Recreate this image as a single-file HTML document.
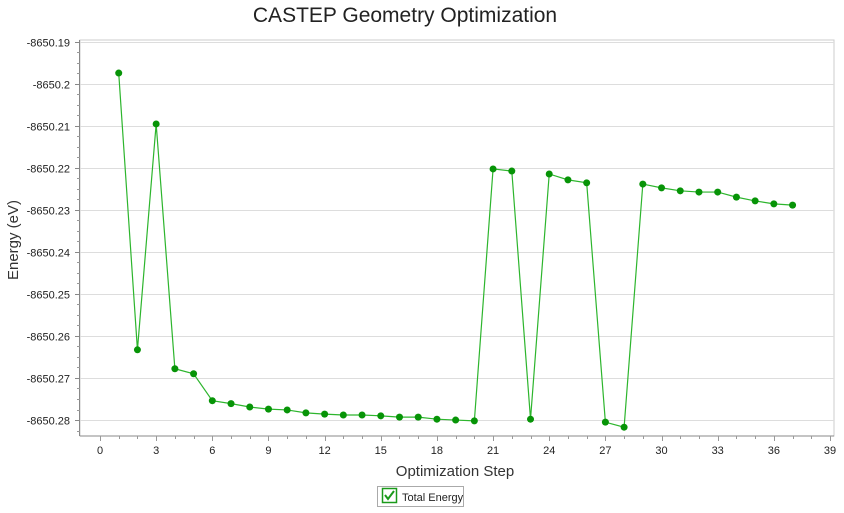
<!DOCTYPE html>
<html><head><meta charset="utf-8"><style>
body{margin:0;background:#fff;font-family:"Liberation Sans",sans-serif;}
svg{display:block}
</style></head><body>
<svg id="chart" width="844" height="513">
<text x="405" y="22" text-anchor="middle" font-size="21" fill="#222">CASTEP Geometry Optimization</text>
<rect x="80" y="40" width="754" height="396" fill="#fff" stroke="#ccc"/>
<g id="grid"></g><g id="axes"></g><g id="series"></g>
<text transform="translate(18,240) rotate(-90)" text-anchor="middle" font-size="15" fill="#333">Energy (eV)</text>
<text x="455" y="476" text-anchor="middle" font-size="15" fill="#333">Optimization Step</text>
<g>
<rect x="377.5" y="486.5" width="86" height="20" fill="#fff" stroke="#aaa"/>
<rect x="382.5" y="488.5" width="14" height="14" fill="#fff" stroke="#1a9a1a" stroke-width="1.5"/>
<path d="M385 495 l3 4 l6 -8" fill="none" stroke="#1a9a1a" stroke-width="2"/>
<text x="402" y="501" font-size="11" fill="#222">Total Energy</text>
</g>
</svg>
<script>
const steps=[1,2,3,4,5,6,7,8,9,10,11,12,13,14,15,16,17,18,19,20,21,22,23,24,25,26,27,28,29,30,31,32,33,34,35,36,37];
const energies=[-8650.1975,-8650.2633,-8650.2096,-8650.2678,-8650.2690,-8650.2754,-8650.2761,-8650.2769,-8650.2774,-8650.2776,-8650.2783,-8650.2786,-8650.2788,-8650.2788,-8650.2790,-8650.2793,-8650.2793,-8650.2798,-8650.2800,-8650.2802,-8650.2203,-8650.2208,-8650.2798,-8650.2215,-8650.2229,-8650.2236,-8650.2805,-8650.2817,-8650.2239,-8650.2248,-8650.2255,-8650.2258,-8650.2258,-8650.2270,-8650.2279,-8650.2286,-8650.2289];
const xTicks=[0,3,6,9,12,15,18,21,24,27,30,33,36,39];
const yTicks=[-8650.19,-8650.2,-8650.21,-8650.22,-8650.23,-8650.24,-8650.25,-8650.26,-8650.27,-8650.28];
const NS="http://www.w3.org/2000/svg";
const X=v=>100+(v-0)*(730/39);
const Y=v=>41.5+(-8650.19-v)*4206;
function mk(t,a,p){const e=document.createElementNS(NS,t);for(const k in a)e.setAttribute(k,a[k]);p.appendChild(e);return e;}
const grid=document.getElementById('grid'),axes=document.getElementById('axes'),ser=document.getElementById('series');
mk('line',{x1:80,y1:436,x2:834,y2:436,stroke:'#888'},axes);
mk('line',{x1:79.5,y1:40,x2:79.5,y2:436,stroke:'#888'},axes);
yTicks.forEach(v=>{const y=Math.round(Y(v))+0.5;
 const g=mk('line',{x1:80,y1:y,x2:834,y2:y,stroke:'#ddd'},grid);
 
 mk('line',{x1:75,y1:y,x2:80,y2:y,stroke:'#888'},axes);
 const t=mk('text',{x:70,y:y+4,'text-anchor':'end','font-size':11,fill:'#222'},axes);t.textContent=String(v);
 
 for(let k=1;k<4;k++){const yy=Math.round(Y(v-k*0.0025))+0.5;if(yy<436)mk('line',{x1:77,y1:yy,x2:80,y2:yy,stroke:'#999'},axes);}
});
for(let i=0;i<=39;i++){const x=Math.round(X(i))+0.5;const maj=i%3==0;mk('line',{x1:x,y1:436,x2:x,y2:maj?441:439,stroke:'#999'},axes);}
xTicks.forEach(v=>{const t=mk('text',{x:X(v),y:454,'text-anchor':'middle','font-size':11,fill:'#222'},axes);t.textContent=v;
 });
const pl=mk('polyline',{points:steps.map((s,i)=>X(s)+','+Y(energies[i])).join(' '),fill:'none',stroke:'#2db52d','stroke-width':1.2},ser);

steps.forEach((s,i)=>{const c=mk('circle',{cx:X(s),cy:Y(energies[i]),r:3.5,fill:'#079407'},ser);
 });
</script>
</body></html>
